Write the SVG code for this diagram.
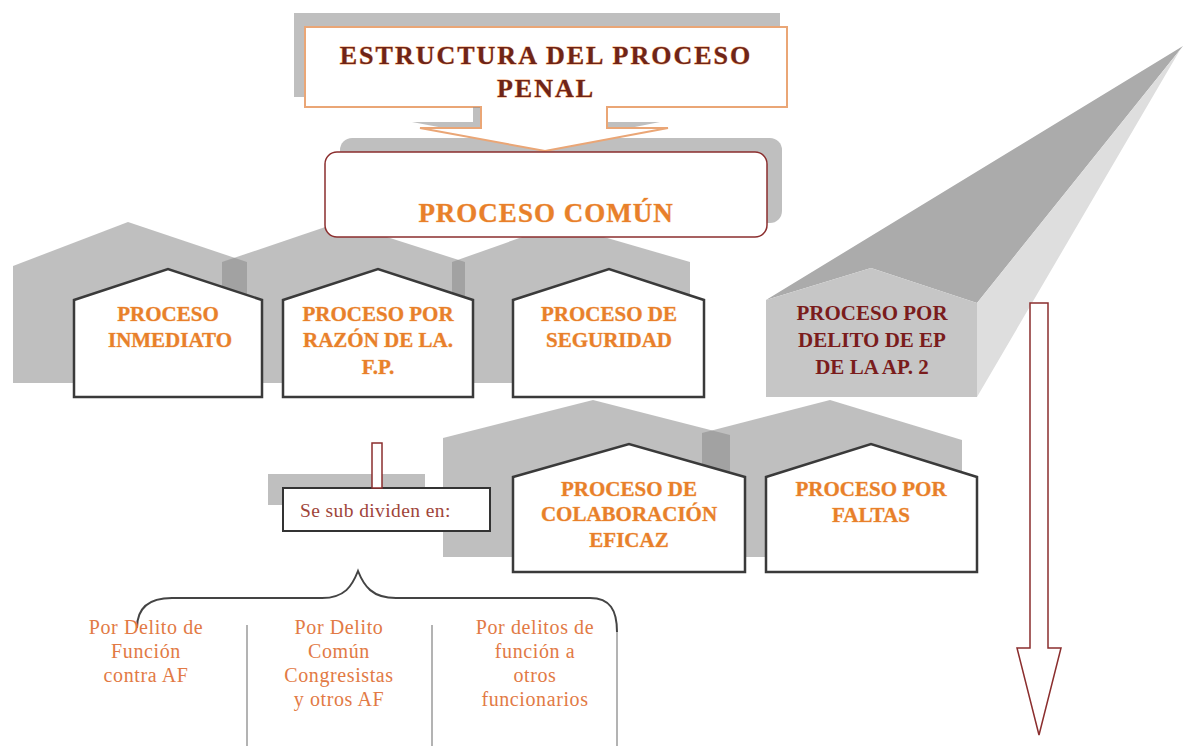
<svg xmlns="http://www.w3.org/2000/svg" width="1184" height="746" viewBox="0 0 1184 746">
<defs>
<style>
.sh{fill:#8a8a8a;fill-opacity:0.55}
.house{fill:#fff;stroke:#3a3a3a;stroke-width:2.5}
.ht{font-family:"Liberation Serif",serif;font-weight:bold;font-size:21px;fill:#e8802a;text-anchor:middle;stroke:#f6c08e;stroke-width:0.6;paint-order:stroke}
.bt{font-family:"Liberation Serif",serif;font-size:20px;letter-spacing:0.6px;fill:#e27a45;text-anchor:middle}
.tt{font-family:"Liberation Serif",serif;font-weight:bold;font-size:26px;letter-spacing:2px;fill:#6e2418;stroke:#f2a870;stroke-width:0.8;paint-order:stroke;text-anchor:middle}
.et{font-family:"Liberation Serif",serif;font-weight:bold;font-size:21px;fill:#7a1c1c;text-anchor:middle}
.dr{fill:#fff;stroke:#8b2e2e;stroke-width:1.5}
.sep{stroke:#9a9a9a;stroke-width:1.5;fill:none}
</style>
</defs>
<rect width="1184" height="746" fill="#fff"/>

<g id="shadows">
<rect x="294" y="13" width="486" height="84" class="sh"/>
<rect x="340" y="138" width="442" height="85" rx="12" class="sh"/>
<path class="sh" d="M13,266 L128,222 L247,262 L247,383 L13,383 Z"/>
<path class="sh" d="M222,262 L340,222 L465,262 L465,383 L222,383 Z"/>
<path class="sh" d="M452,262 L559,224 L690,262 L690,383 L452,383 Z"/>
<path class="sh" d="M443,438 L593,400 L730,435 L730,557 L443,557 Z"/>
<path class="sh" d="M702,433 L830,400 L962,440 L962,557 L702,557 Z"/>
<rect x="268" y="474" width="157" height="31" class="sh"/>
</g>

<g id="title">
<rect x="305" y="27" width="482" height="80" fill="#fff" stroke="#eaa676" stroke-width="2"/>
<path d="M473,107 L473,122 L412,122 L539,146 L660,122 L599,122 L599,107 Z" class="sh"/>
<path d="M481,107 L481,128 L420,128 L545,151 L668,128 L607,128 L607,107" fill="#fff" stroke="#eaa676" stroke-width="2"/>
<rect x="482" y="105" width="124" height="4" fill="#fff"/>
<text class="tt" x="546" y="64">ESTRUCTURA DEL PROCESO</text>
<text class="tt" x="546" y="97">PENAL</text>
</g>

<g id="proceso-comun">
<rect x="325" y="152" width="442" height="85" rx="12" fill="#fff" stroke="#8b2e2e" stroke-width="1.5"/>
<text x="546" y="222" font-family="'Liberation Serif',serif" font-weight="bold" font-size="27" letter-spacing="1" fill="#e8802a" stroke="#f6c08e" stroke-width="0.6" paint-order="stroke" text-anchor="middle">PROCESO COMÚN</text>
</g>

<g id="inmediato">
<path class="house" d="M74,300 L168,269 L262,300 L262,397 L74,397 Z"/>
<text class="ht" x="168" y="321">PROCESO</text>
<text class="ht" x="170" y="347">INMEDIATO</text>
</g>

<g id="razon-fp">
<path class="house" d="M283,300 L378,269 L473,300 L473,397 L283,397 Z"/>
<text class="ht" x="378" y="321">PROCESO POR</text>
<text class="ht" x="378" y="347">RAZÓN DE LA.</text>
<text class="ht" x="378" y="374">F.P.</text>
</g>

<g id="seguridad">
<path class="house" d="M513,300 L609,269 L704,300 L704,397 L513,397 Z"/>
<text class="ht" x="609" y="321">PROCESO DE</text>
<text class="ht" x="609" y="347">SEGURIDAD</text>
</g>

<g id="delito-ep">
<polygon points="766,300 871,268 977,303 1183,46" fill="#ababab"/>
<polygon points="977,303 977,397 1180,50 1183,46" fill="#dedede"/>
<polygon points="766,300 871,268 977,303 977,397 766,397" fill="#c6c6c6"/>
<text class="et" x="872" y="320">PROCESO POR</text>
<text class="et" x="872" y="347">DELITO DE EP</text>
<text class="et" x="872" y="374">DE LA AP. 2</text>
</g>

<g id="colaboracion">
<path class="house" d="M513,477 L629,444 L745,477 L745,572 L513,572 Z"/>
<text class="ht" x="629" y="496">PROCESO DE</text>
<text class="ht" x="629" y="521">COLABORACIÓN</text>
<text class="ht" x="629" y="547">EFICAZ</text>
</g>

<g id="faltas">
<path class="house" d="M766,477 L871,444 L977,477 L977,572 L766,572 Z"/>
<text class="ht" x="871" y="496">PROCESO POR</text>
<text class="ht" x="871" y="522">FALTAS</text>
</g>

<g id="subdividen">
<rect x="283" y="488" width="207" height="43" fill="#fff" stroke="#333" stroke-width="2"/>
<text x="300" y="517" font-family="'Liberation Serif',serif" font-size="19.5" letter-spacing="0.4" fill="#a0453a">Se sub dividen en:</text>
</g>

<g id="connectors">
<rect x="372" y="443" width="10" height="45" class="dr"/>
<path class="dr" d="M1030,303 L1048,303 L1048,648 L1061,648 L1039,735 L1017,648 L1030,648 Z"/>
<path d="M137,628 C137,608 148,598 172,598 L322,598 C345,598 352,586 358,571 C364,586 372,598 396,598 L590,598 C610,598 617,610 617,632" fill="none" stroke="#444" stroke-width="2"/>
<line class="sep" x1="617" y1="632" x2="617" y2="746"/>
<line class="sep" x1="247" y1="625" x2="247" y2="746"/>
<line class="sep" x1="432" y1="625" x2="432" y2="746"/>
</g>

<g id="ramas">
<text class="bt" x="146" y="634">Por Delito  de</text>
<text class="bt" x="146" y="658">Función</text>
<text class="bt" x="146" y="682">contra AF</text>
<text class="bt" x="339" y="634">Por Delito</text>
<text class="bt" x="339" y="658">Común</text>
<text class="bt" x="339" y="682">Congresistas</text>
<text class="bt" x="339" y="706">y otros AF</text>
<text class="bt" x="535" y="634">Por delitos de</text>
<text class="bt" x="535" y="658">función a</text>
<text class="bt" x="535" y="682">otros</text>
<text class="bt" x="535" y="706">funcionarios</text>
</g>
</svg>
